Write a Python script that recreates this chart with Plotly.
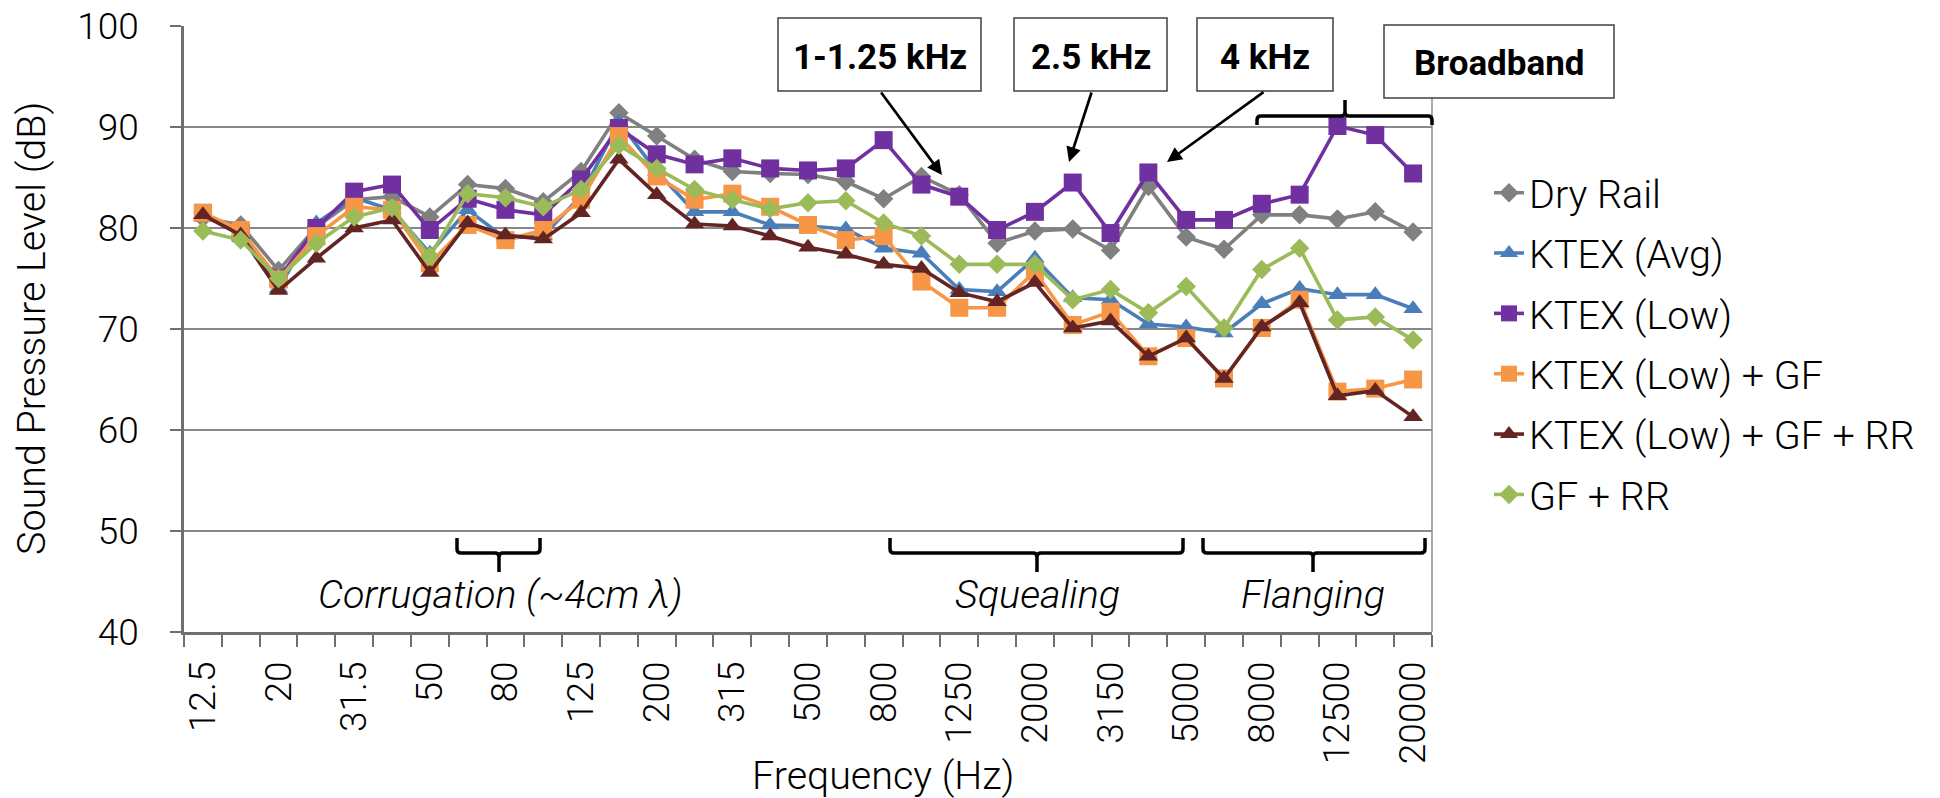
import plotly.graph_objects as go

freq_labels = ["12.5", "16", "20", "25", "31.5", "40", "50", "63", "80", "100", "125", "160",
               "200", "250", "315", "400", "500", "630", "800", "1000", "1250", "1600", "2000",
               "2500", "3150", "4000", "5000", "6300", "8000", "10000", "12500", "16000", "20000"]
tick_text = [lab if i % 2 == 0 else "" for i, lab in enumerate(freq_labels)]

dry_rail = [81.0, 80.3, 75.8, 80.1, 82.8, 83.1, 81.1, 84.3, 83.9, 82.6, 85.6, 91.4, 89.1, 86.8, 85.6,
            85.4, 85.3, 84.6, 82.9, 85.1, 83.3, 78.5, 79.7, 79.9, 77.8, 84.1, 79.1, 77.9, 81.3, 81.3,
            80.9, 81.6, 79.6]
ktex_avg = [81.2, 79.6, 74.0, 80.5, 83.0, 81.8, 77.5, 81.8, 79.0, 79.2, 83.2, 90.5, 85.6, 81.6, 81.6,
            80.3, 80.2, 79.9, 78.0, 77.5, 73.9, 73.7, 77.0, 73.1, 72.9, 70.5, 70.2, 69.6, 72.5, 74.0,
            73.4, 73.4, 72.0]
ktex_low = [81.5, 79.5, 75.0, 80.0, 83.6, 84.3, 79.8, 82.9, 81.8, 81.3, 84.8, 89.9, 87.3, 86.3, 86.9,
            85.9, 85.7, 85.9, 88.7, 84.3, 83.1, 79.8, 81.6, 84.5, 79.5, 85.5, 80.8, 80.8, 82.4, 83.3,
            90.1, 89.2, 85.4]
ktex_low_gf = [81.5, 79.8, 74.9, 79.2, 82.1, 81.8, 76.5, 80.3, 78.8, 79.8, 82.8, 89.1, 85.1, 82.8, 83.4,
               82.1, 80.3, 78.8, 79.2, 74.7, 72.1, 72.1, 75.7, 70.4, 71.7, 67.3, 69.1, 65.1, 70.1, 72.9,
               63.8, 64.1, 65.0]
ktex_low_gf_rr = [81.3, 79.3, 73.8, 77.0, 80.0, 80.8, 75.6, 80.5, 79.3, 78.9, 81.5, 86.8, 83.3, 80.4, 80.2,
                  79.2, 78.1, 77.4, 76.4, 76.0, 73.6, 72.7, 74.6, 70.1, 70.8, 67.3, 69.1, 65.1, 70.2, 72.6,
                  63.4, 63.9, 61.3]
gf_rr = [79.7, 78.8, 75.0, 78.5, 81.1, 82.0, 77.2, 83.4, 83.0, 82.1, 83.8, 88.2, 85.9, 83.8, 82.8,
         81.9, 82.5, 82.7, 80.5, 79.2, 76.4, 76.4, 76.4, 72.9, 73.9, 71.6, 74.2, 70.1, 75.9, 78.0,
         70.9, 71.2, 68.9]

series = [
    ("Dry Rail", dry_rail, "#808080", "diamond", 15),
    ("KTEX (Avg)", ktex_avg, "#4a7ebb", "triangle-up", 17),
    ("KTEX (Low)", ktex_low, "#7030a0", "square", 18),
    ("KTEX (Low) + GF", ktex_low_gf, "#f79646", "square", 18),
    ("KTEX (Low) + GF + RR", ktex_low_gf_rr, "#632523", "triangle-up", 17),
    ("GF + RR", gf_rr, "#9bbb59", "diamond", 15),
]

W, H = 1940, 798
PL, PR, PT, PB = 184, 1432, 26, 632


def px(x):
    return (x - PL) / (PR - PL)


def py(y):
    return (PB - y) / (PB - PT)


LIGHT = dict(family="Roboto", weight=300, color="#000000")

fig = go.Figure()
for i, (name, vals, color, sym, size) in enumerate(series):
    fig.add_trace(go.Scatter(
        x=freq_labels, y=vals, name=name, mode="lines+markers",
        line=dict(color=color, width=3.6),
        marker=dict(symbol=sym, size=size, color=color, line=dict(width=0)),
        legendgroup=f"g{i}",
    ))

shapes = []
shapes.append(dict(type="line", xref="paper", yref="paper", x0=1, x1=1, y0=0, y1=1,
                   line=dict(color="#8c8c8c", width=1.5)))

boxes = [(778, 18, 981, 91), (1014, 18, 1167, 91), (1197, 18, 1333, 91), (1384, 25, 1614, 98)]
for x0, y0, x1, y1 in boxes:
    shapes.append(dict(type="rect", xref="paper", yref="paper", x0=px(x0), x1=px(x1),
                       y0=py(y1), y1=py(y0), line=dict(color="#404040", width=1.5),
                       fillcolor="white", layer="above"))


def P(x, y):
    return f"{px(x):.5f},{py(y):.5f}"


def bracket_down(xl, xm, xr, ytop, yline, ybot):
    r = 4
    return (f"M {P(xl, ytop)} L {P(xl, yline - r)} Q {P(xl, yline)} {P(xl + r, yline)} "
            f"L {P(xm - r, yline)} Q {P(xm, yline)} {P(xm, yline + r)} L {P(xm, ybot)} "
            f"M {P(xm, yline + r)} Q {P(xm, yline)} {P(xm + r, yline)} "
            f"L {P(xr - r, yline)} Q {P(xr, yline)} {P(xr, yline - r)} L {P(xr, ytop)}")


def bracket_up(xl, xm, xr, ybottom, yline, ytop):
    r = 4
    return (f"M {P(xl, ybottom)} L {P(xl, yline + r)} Q {P(xl, yline)} {P(xl + r, yline)} "
            f"L {P(xm - r, yline)} Q {P(xm, yline)} {P(xm, yline - r)} L {P(xm, ytop)} "
            f"M {P(xm, yline - r)} Q {P(xm, yline)} {P(xm + r, yline)} "
            f"L {P(xr - r, yline)} Q {P(xr, yline)} {P(xr, yline + r)} L {P(xr, ybottom)}")


for path in [bracket_down(457, 499, 540, 538, 553, 572),
             bracket_down(890, 1037, 1183, 538, 553, 572),
             bracket_down(1203, 1313, 1425, 538, 553, 572),
             bracket_up(1257, 1345, 1432, 125, 116, 100)]:
    shapes.append(dict(type="path", xref="paper", yref="paper", path=path,
                       line=dict(color="#000000", width=3.5)))

annotations = []
BOLD = dict(family="Roboto", size=35, color="#000000", weight=700)
for text, cx, cy in [("1-1.25 kHz", 879.5, 58), ("2.5 kHz", 1090.5, 58), ("4 kHz", 1265, 58),
                     ("Broadband", 1499, 64)]:
    annotations.append(dict(text=text, x=px(cx), y=py(cy), xref="paper", yref="paper",
                            showarrow=False, font=BOLD, xanchor="center", yanchor="middle"))

for (tx, ty, hx, hy) in [(880, 91, 942, 175), (1092, 91, 1069, 162), (1265, 91, 1167, 162)]:
    annotations.append(dict(text="", x=px(hx), y=py(hy), xref="paper", yref="paper",
                            ax=tx - hx, ay=ty - hy, showarrow=True, arrowhead=2, arrowsize=1.1,
                            arrowwidth=2.7, arrowcolor="#000000", standoff=0))

ITAL = dict(family="Roboto", size=39.5, color="#000000", weight=300, style="italic")
for text, cx in [("Corrugation (~4cm \u03bb)", 500), ("Squealing", 1037), ("Flanging", 1313)]:
    annotations.append(dict(text=text, x=px(cx), y=py(594), xref="paper", yref="paper",
                            showarrow=False, font=ITAL, xanchor="center", yanchor="middle"))

annotations.append(dict(text="Frequency (Hz)", x=px(883), y=py(775), xref="paper", yref="paper",
                        showarrow=False, font=dict(LIGHT, size=39.5), xanchor="center", yanchor="middle"))
annotations.append(dict(text="Sound Pressure Level (dB)", x=px(31), y=py(329), xref="paper", yref="paper",
                        showarrow=False, textangle=-90, font=dict(LIGHT, size=39.5),
                        xanchor="center", yanchor="middle"))

fig.update_layout(
    width=W, height=H,
    margin=dict(l=PL, r=W - PR, t=PT, b=H - PB, autoexpand=False),
    paper_bgcolor="white", plot_bgcolor="white",
    font=dict(family="Roboto", color="#000000"),
    showlegend=True,
    legend=dict(x=px(1489), y=py(344), xanchor="left", yanchor="middle",
                font=dict(LIGHT, size=39.5), traceorder="grouped", tracegroupgap=6,
                bgcolor="rgba(0,0,0,0)"),
    shapes=shapes, annotations=annotations,
    xaxis=dict(type="category", tickmode="array", tickvals=freq_labels, ticktext=tick_text,
               tickson="boundaries", ticks="outside", ticklen=12, tickwidth=2, tickcolor="#707070",
               showline=True, linecolor="#707070", linewidth=2.5, showgrid=False,
               tickangle=-90, tickfont=dict(LIGHT, size=37), ticklabelstandoff=12,
               range=[-0.5, len(freq_labels) - 0.5], automargin=False, zeroline=False),
    yaxis=dict(range=[40, 100], dtick=10, tick0=40, ticks="outside", ticklen=11, tickwidth=2,
               tickcolor="#707070", showline=True, linecolor="#707070", linewidth=2.5,
               showgrid=True, gridcolor="#888888", gridwidth=1.5, zeroline=False,
               tickfont=dict(LIGHT, size=37), ticklabelstandoff=24, automargin=False),
)

fig.write_html("out.html", config={"displayModeBar": False},
               post_script="document.body.style.margin='0';document.body.style.overflow='hidden';")
